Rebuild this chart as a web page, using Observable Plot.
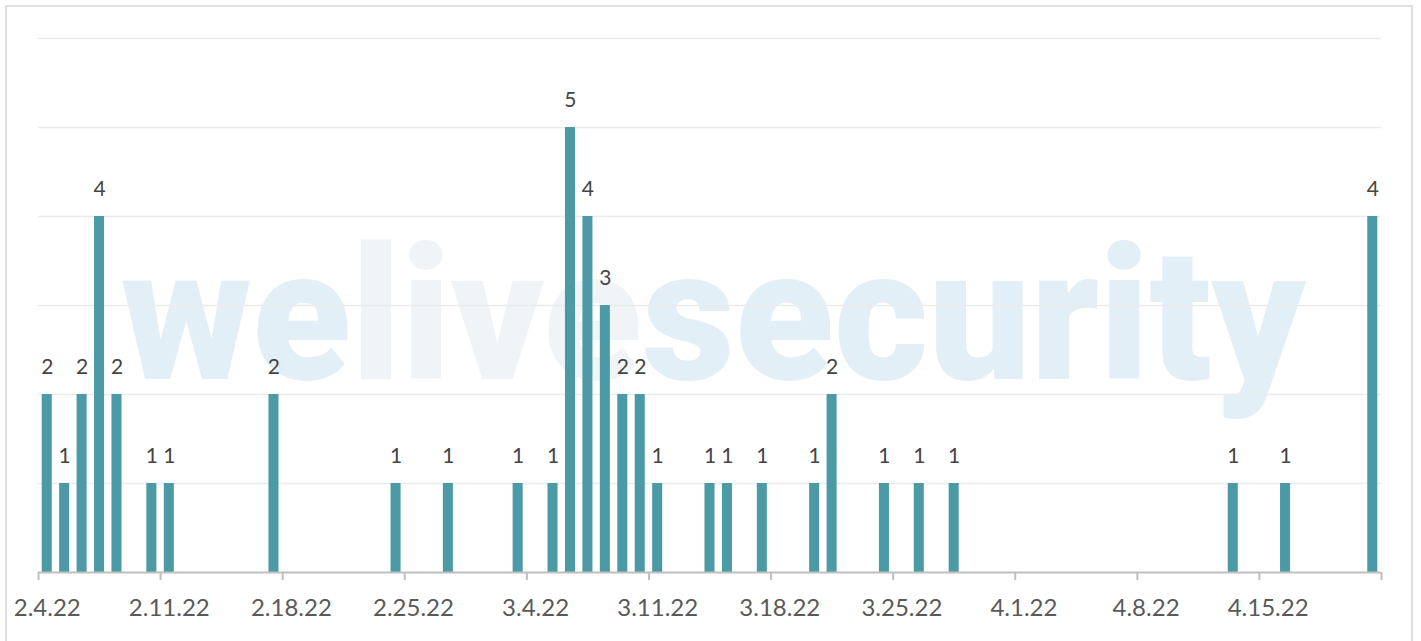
<!DOCTYPE html>
<html><head><meta charset="utf-8">
<script src="https://cdn.jsdelivr.net/npm/d3@7"></script>
<script src="https://cdn.jsdelivr.net/npm/@observablehq/plot@0.6"></script>
<style>
body{margin:0;background:#fff;}
#frame{position:absolute;left:5px;top:5px;width:1408px;height:680px;border:2px solid #dfdfdf;box-sizing:border-box;}
#chart{position:absolute;left:0;top:0;}
</style></head><body><div id="frame"></div><div id="chart"></div>
<script>
const dates = ["2022-02-04","2022-02-05","2022-02-06","2022-02-07","2022-02-08","2022-02-10","2022-02-11",
  "2022-02-17","2022-02-24","2022-02-27","2022-03-03","2022-03-05","2022-03-06","2022-03-07","2022-03-08",
  "2022-03-09","2022-03-10","2022-03-11","2022-03-14","2022-03-15","2022-03-17","2022-03-20","2022-03-21",
  "2022-03-24","2022-03-26","2022-03-28","2022-04-13","2022-04-16","2022-04-21"];
const counts = [2,1,2,4,2,1,1, 2,1,1,1,1,5,4,3, 2,2,1,1,1,1,1,2, 1,1,1,1,1,4];
const tickDates = ["2022-02-04","2022-02-11","2022-02-18","2022-02-25","2022-03-04","2022-03-11",
  "2022-03-18","2022-03-25","2022-04-01","2022-04-08","2022-04-15","2022-04-22"];
const labelDates = tickDates.slice(0, 11);
const gridValues = [1,2,3,4,5,6];
const watermark = ["welivesecurity"];

const DAY = 864e5;
const data = dates.map((d, i) => ({date: new Date(d + "T00:00:00Z"), count: counts[i]}));
const ticks = tickDates.map(d => new Date(d + "T00:00:00Z"));
const labels = labelDates.map(d => new Date(+new Date(d + "T00:00:00Z") + DAY / 2));
const fmt = d => `${d.getUTCMonth() + 1}.${d.getUTCDate()}.${String(d.getUTCFullYear()).slice(2)}`;

const chart = Plot.plot({
  width: 1421, height: 641,
  marginLeft: 38, marginRight: 40, marginTop: 38, marginBottom: 69,
  style: {fontFamily: "Lato, sans-serif", background: "transparent"},
  x: {type: "utc", domain: [ticks[0], ticks[ticks.length - 1]], axis: null},
  y: {domain: [0, 6], axis: null},
  marks: [
    Plot.text(watermark, {text: d => d, frameAnchor: "middle", dx: 3, dy: 14, lineAnchor: "middle",
      fontSize: 186, fontWeight: 900, fontFamily: "Roboto, 'DejaVu Sans', sans-serif", fill: "#e2eff7"}),
    Plot.ruleY(gridValues, {stroke: "#ebebeb", strokeWidth: 1.5}),
    Plot.rectY(data, {x1: d => d.date, x2: d => new Date(+d.date + DAY), y: "count",
      fill: "#4b9aa5", insetLeft: 3.7, insetRight: 3.7}),
    Plot.text(data, {x: d => new Date(+d.date + DAY / 2), y: "count", text: d => String(d.count),
      dy: -27, lineAnchor: "middle", fontSize: 21, fill: "#444"}),
    Plot.ruleY([0], {stroke: "#bfbfbf", strokeWidth: 2}),
    Plot.axisX({ticks: ticks, tickSize: 8, tickFormat: () => "", stroke: "#bfbfbf", strokeWidth: 2, label: null}),
    Plot.axisX({ticks: labels, tickSize: 0, tickPadding: 26, tickFormat: fmt, fontSize: 24, fill: "#595959", label: null})
  ]
});
document.getElementById("chart").appendChild(chart);

// watermark colouring / fit
d3.select(chart).selectAll("text").filter(function() { return this.textContent === "welivesecurity"; })
  .each(function() {
    const t = d3.select(this);
    t.text(null).attr("textLength", 1185).attr("lengthAdjust", "spacingAndGlyphs").attr("text-anchor", "middle");
    t.append("tspan").text("we");
    t.append("tspan").attr("fill", "#f0f4f6").text("live");
    t.append("tspan").text("security");
  });
</script></body></html>
